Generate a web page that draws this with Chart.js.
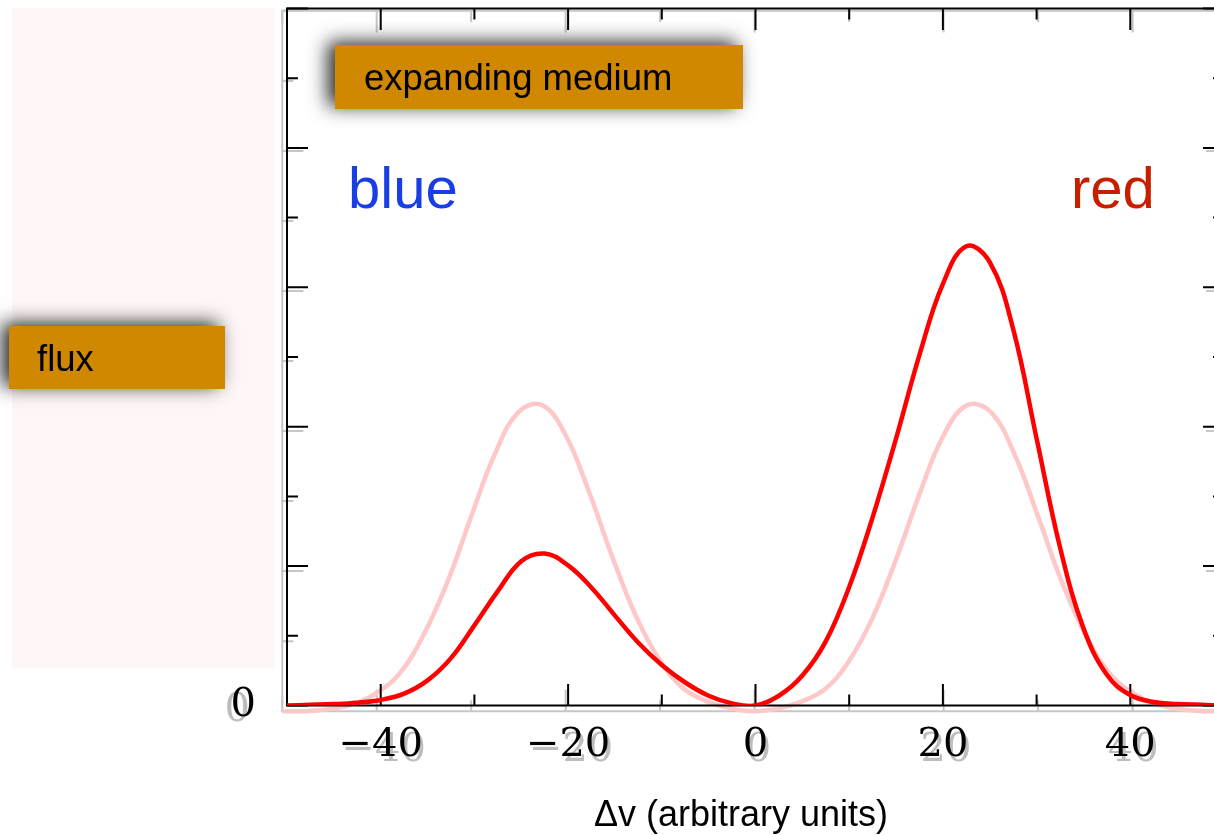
<!DOCTYPE html>
<html><head><meta charset="utf-8">
<script src="https://cdn.jsdelivr.net/npm/chart.js@4"></script>
<style>html,body{margin:0;padding:0;background:#fff;overflow:hidden;width:1214px;height:835px}canvas{display:block}</style>
</head><body><canvas id="c" width="1240" height="835"></canvas>
<script>
// ---- data ----
const velocities = [-50,-47.5,-45,-42.5,-40,-37.5,-35,-32.5,-30,-27.5,-25,-22.5,-20,-17.5,-15,-12.5,-10,-7.5,-5,-2.5,0,
  2.5,5,7.5,10,12.5,15,17.5,20,22.5,25,27.5,30,32.5,35,37.5,40,42.5,45,47.5,50];
const expandingFlux = [0,0.01,0.02,0.04,0.08,0.17,0.36,0.68,1.15,1.64,2.07,2.18,2.01,1.69,1.29,0.9,0.58,0.33,0.14,0.03,0,
  0.14,0.43,0.92,1.7,2.7,3.83,5.03,6.05,6.59,6.36,5.4,3.83,2.27,1.11,0.44,0.15,0.05,0.02,0.01,0];
const staticFlux = [0,0,0.03,0.1,0.26,0.55,1.1,1.85,2.78,3.67,4.27,4.37,3.94,3.12,2.18,1.34,0.72,0.32,0.14,0.04,0,
  0.04,0.14,0.32,0.72,1.34,2.18,3.12,3.94,4.37,4.27,3.67,2.78,1.85,1.1,0.55,0.26,0.1,0.03,0,0];
const xTickValues = [-50,-40,-30,-20,-10,0,10,20,30,40,50];
const xLabelValues = [-40,-20,0,20,40];
const xLabelTexts = ['\u221240','\u221220','0','20','40'];
const yTickValues = [0,1,2,3,4,5,6,7,8,9,10];
const yLabelValues = [0];
const yLabelTexts = ['0'];
const xTitle = '\u0394v (arbitrary units)';
const boxTexts = ['expanding medium','flux'];
const sideTexts = ['blue','red'];

const SH = {sx:1.0084, tx:-7.2, sy:1.0048, ty:2.3};
const TICKFONT = '40px "DejaVu Serif"';

function drawFrame(chart, color){
  const ctx = chart.ctx, a = chart.chartArea, xs = chart.scales.x, ys = chart.scales.y;
  ctx.save(); ctx.strokeStyle = color; ctx.lineWidth = 2;
  ctx.beginPath(); ctx.rect(a.left, a.top, a.right - a.left, a.bottom - a.top); ctx.stroke();
  ctx.beginPath();
  xTickValues.forEach(v => {
    const p = xs.getPixelForValue(v), L = (v % 20 === 0) ? 21.5 : 11;
    ctx.moveTo(p, a.bottom); ctx.lineTo(p, a.bottom - L);
    ctx.moveTo(p, a.top); ctx.lineTo(p, a.top + L);
  });
  yTickValues.forEach(v => {
    const p = ys.getPixelForValue(v), L = (v % 2 === 0) ? 21 : 11;
    ctx.moveTo(a.left, p); ctx.lineTo(a.left + L, p);
    ctx.moveTo(a.right, p); ctx.lineTo(a.right - L, p);
  });
  ctx.stroke(); ctx.restore();
}

function box(ctx, x, y, w, h, text, tx, ty){
  ctx.save();
  ctx.shadowColor = 'rgba(0,0,0,0.85)'; ctx.shadowBlur = 18; ctx.shadowOffsetX = -7; ctx.shadowOffsetY = -3;
  ctx.fillStyle = '#cf8800'; ctx.fillRect(x, y, w, h);
  ctx.restore();
  ctx.save(); ctx.fillStyle = '#000'; ctx.font = '36.5px "Liberation Sans"'; ctx.textBaseline = 'alphabetic'; ctx.textAlign = 'left';
  ctx.fillText(text, tx, ty); ctx.restore();
}

const decor = {
  id: 'decor',
  beforeDraw(chart){
    const ctx = chart.ctx, a = chart.chartArea, xs = chart.scales.x, ys = chart.scales.y;
    ctx.save(); ctx.fillStyle = '#fff'; ctx.fillRect(0, 0, chart.width, chart.height);
    ctx.fillStyle = '#fff7f7'; ctx.fillRect(12, 8, 263, 660); ctx.restore();
    // gray shadow copy of the axes
    ctx.save(); ctx.translate(SH.tx, SH.ty); ctx.scale(SH.sx, SH.sy);
    drawFrame(chart, '#c6c6c6'); ctx.restore();
    ctx.save(); ctx.fillStyle = '#bdbdbd'; ctx.font = TICKFONT;
    ctx.textAlign = 'center'; ctx.textBaseline = 'middle';
    xLabelValues.forEach((v, i) => ctx.fillText(xLabelTexts[i], xs.getPixelForValue(v) + 3, a.bottom + 40.5 + 5));
    ctx.textAlign = 'right';
    yLabelValues.forEach((v, i) => ctx.fillText(yLabelTexts[i], a.left - 31 - 6, ys.getPixelForValue(v) + 5));
    ctx.restore();
  },
  beforeDatasetDraw(chart, args){
    if (args.index === 1){ const ctx = chart.ctx; ctx.save(); ctx.translate(SH.tx, SH.ty); ctx.scale(SH.sx, SH.sy); }
  },
  afterDatasetDraw(chart, args){
    if (args.index === 1){ chart.ctx.restore(); drawFrame(chart, '#000'); }
  },
  afterDraw(chart){
    const ctx = chart.ctx;
    box(ctx, 335, 45, 408, 64, boxTexts[0], 364, 90);
    box(ctx, 9, 326, 216, 63, boxTexts[1], 37, 371);
    ctx.save(); ctx.font = '58px "Liberation Sans"'; ctx.textBaseline = 'alphabetic';
    ctx.fillStyle = '#1a3ee6'; ctx.fillText(sideTexts[0], 348, 208);
    ctx.fillStyle = '#c81e00'; ctx.fillText(sideTexts[1], 1071, 208);
    ctx.font = '36px "Liberation Sans"'; ctx.fillStyle = '#000'; ctx.textAlign = 'center';
    ctx.fillText(xTitle, 741, 826);
    ctx.restore();
  }
};

new Chart(document.getElementById('c'), {
  type: 'line',
  data: { datasets: [
    { label: 'expanding', data: velocities.map((x, i) => ({x, y: expandingFlux[i]})), borderColor: '#ff0000', borderWidth: 4.5,
      pointRadius: 0, tension: 0.4, capBezierPoints: false, fill: false },
    { label: 'static', data: velocities.map((x, i) => ({x, y: staticFlux[i]})), borderColor: '#ffc8c8', borderWidth: 4.5,
      pointRadius: 0, tension: 0.4, capBezierPoints: false, fill: false, clip: false }
  ]},
  options: {
    responsive: false, animation: false, devicePixelRatio: 1,
    layout: { padding: { top: 8.5, right: 16, left: 0, bottom: 0 } },
    plugins: { legend: { display: false }, tooltip: { enabled: false } },
    scales: {
      x: { type: 'linear', min: -50, max: 50,
        afterFit(s){ s.height = 835 - 705.5; s.paddingLeft = 0; s.paddingRight = 0; },
        grid: { display: false, drawTicks: false }, border: { display: false },
        ticks: { stepSize: 10, autoSkip: false, maxRotation: 0, padding: 16, color: '#000',
          font: { family: 'DejaVu Serif', size: 40 },
          callback: v => { const i = xLabelValues.indexOf(v); return i >= 0 ? xLabelTexts[i] : ''; } } },
      y: { min: 0, max: 10,
        afterFit(s){ s.width = 287; s.paddingTop = 0; s.paddingBottom = 0; },
        grid: { display: false, drawTicks: false }, border: { display: false },
        ticks: { stepSize: 1, padding: 31, color: '#000', font: { family: 'DejaVu Serif', size: 40 },
          callback: v => { const i = yLabelValues.indexOf(v); return i >= 0 ? yLabelTexts[i] : ''; } } }
    }
  },
  plugins: [decor]
});
</script></body></html>
